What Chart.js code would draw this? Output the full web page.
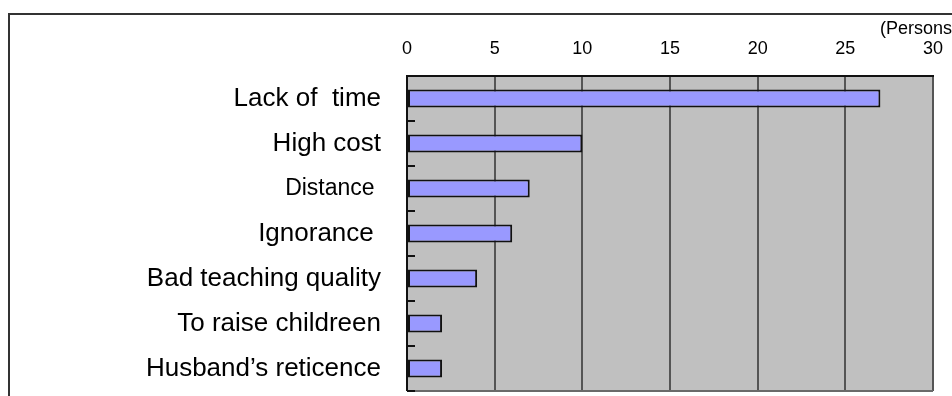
<!DOCTYPE html>
<html>
<head>
<meta charset="utf-8">
<script src="https://cdn.jsdelivr.net/npm/chart.js@4/dist/chart.umd.min.js"></script>
<style>
  html, body { margin: 0; padding: 0; background: #fff; }
  #wrap { width: 952px; height: 396px; position: relative; }
</style>
</head>
<body>
<div id="wrap"><canvas id="c" width="952" height="396"></canvas></div>
<script>
// Reasons given, top to bottom
const categories = [
  "Lack of  time",
  "High cost",
  "Distance ",
  "Ignorance ",
  "Bad teaching quality",
  "To raise childreen",
  "Husband\u2019s reticence"
];
// Number of persons per reason
const persons = [27, 10, 7, 6, 4, 2, 2];
// Axis scale
const xTicks = [0, 5, 10, 15, 20, 25, 30];
const unitLabel = "(Persons)";

const FONT = "'Liberation Sans', Arial, sans-serif";

// Plot-area background, frame, boundary ticks and unit label
const decor = {
  id: 'decor',
  beforeDraw(chart) {
    const { ctx, chartArea: a } = chart;
    ctx.save();
    ctx.fillStyle = '#C0C0C0';
    ctx.fillRect(a.left, a.top, a.right - a.left, a.bottom - a.top);
    ctx.restore();
  },
  afterDraw(chart) {
    const { ctx, chartArea: a } = chart;
    const y = chart.scales.y;
    ctx.save();
    // bottom edge of the plot
    ctx.strokeStyle = '#6a6a6a';
    ctx.lineWidth = 2;
    ctx.beginPath();
    ctx.moveTo(a.left, a.bottom);
    ctx.lineTo(a.right, a.bottom);
    ctx.stroke();
    // left axis, drawn over the bars' edges
    ctx.strokeStyle = '#111';
    ctx.beginPath();
    ctx.moveTo(a.left, a.top);
    ctx.lineTo(a.left, a.bottom);
    ctx.stroke();
    // short inner ticks between categories
    const n = categories.length;
    const step = y.getPixelForValue(1) - y.getPixelForValue(0);
    for (let i = 0; i < n; i++) {
      const py = Math.round(y.getPixelForValue(i) + step / 2);
      ctx.beginPath();
      ctx.moveTo(a.left, py);
      ctx.lineTo(a.left + 8, py);
      ctx.stroke();
    }
    // outer frame
    ctx.strokeStyle = '#333';
    ctx.lineWidth = 2;
    ctx.beginPath();
    ctx.moveTo(9, 400);
    ctx.lineTo(9, 14);
    ctx.lineTo(960, 14);
    ctx.stroke();
    // unit label
    ctx.fillStyle = '#000';
    ctx.font = "18px " + FONT;
    ctx.textAlign = 'left';
    ctx.textBaseline = 'middle';
    ctx.fillText(unitLabel, 880, 29);
    ctx.restore();
  }
};

new Chart(document.getElementById('c'), {
  type: 'bar',
  data: {
    labels: categories,
    datasets: [{
      data: persons,
      backgroundColor: '#9999FF',
      borderColor: '#111',
      borderWidth: 2,
      borderSkipped: false,
      barPercentage: 0.4,
      categoryPercentage: 1.0
    }]
  },
  options: {
    indexAxis: 'y',
    responsive: false,
    animation: false,
    devicePixelRatio: 1,
    layout: { padding: { left: 0, right: 19, top: 0, bottom: 5 } },
    plugins: { legend: { display: false }, tooltip: { enabled: false } },
    scales: {
      x: {
        position: 'top',
        min: xTicks[0],
        max: xTicks[xTicks.length - 1],
        afterBuildTicks(scale) { scale.ticks = xTicks.map(v => ({ value: v })); },
        afterFit(scale) {
          scale.height = 76;
          scale.paddingLeft = 0;
          scale.paddingRight = 0;
        },
        ticks: {
          color: '#000',
          font: { family: FONT, size: 18 },
          padding: 16,
          maxRotation: 0
        },
        grid: {
          color: '#555',
          lineWidth: 2,
          drawTicks: false
        },
        border: { display: true, color: '#111', width: 2 }
      },
      y: {
        afterFit(scale) {
          scale.width = 407;
          scale.paddingTop = 0;
          scale.paddingBottom = 0;
        },
        ticks: {
          color: '#000',
          padding: 26,
          font: (c) => ({ family: FONT, size: c.index === 2 ? 23 : 26 })
        },
        grid: { display: false, drawTicks: false },
        border: { display: false }
      }
    }
  },
  plugins: [decor]
});
</script>
</body>
</html>
